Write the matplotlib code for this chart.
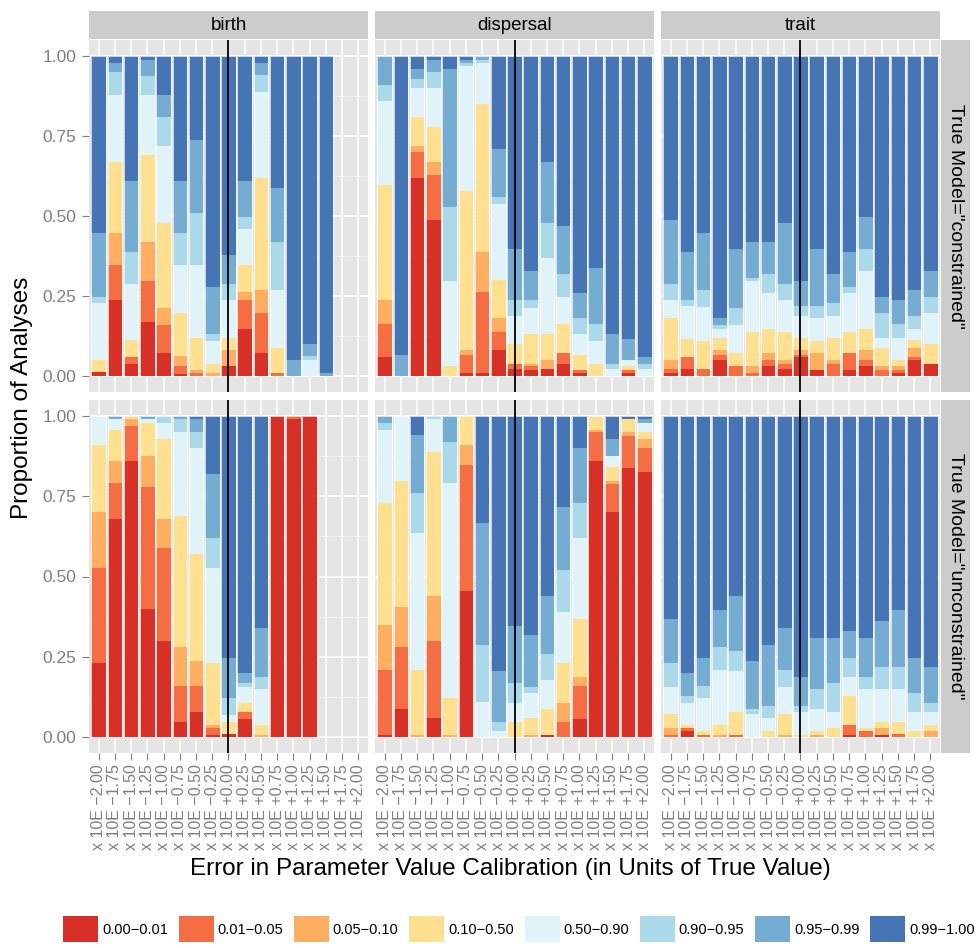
import numpy as np
import matplotlib
matplotlib.use("Agg")
import matplotlib.pyplot as plt
from matplotlib.patches import Patch

plt.rcParams['font.family'] = ['Liberation Sans', 'DejaVu Sans']

# calibration offsets on the x axis
offsets = ["\u22122.00", "\u22121.75", "\u22121.50", "\u22121.25", "\u22121.00",
           "\u22120.75", "\u22120.50", "\u22120.25", "+0.00", "+0.25", "+0.50",
           "+0.75", "+1.00", "+1.25", "+1.50", "+1.75", "+2.00"]
tick_labels = ["x 10E " + o for o in offsets]

# p-value bins and their colours
bins = ["0.00\u22120.01", "0.01\u22120.05", "0.05\u22120.10", "0.10\u22120.50",
        "0.50\u22120.90", "0.90\u22120.95", "0.95\u22120.99", "0.99\u22121.00"]
colors = ["#D73027", "#F46D43", "#FDAE61", "#FEE090",
          "#E0F3F8", "#ABD9E9", "#74ADD1", "#4575B4"]

params = ["birth", "dispersal", "trait"]
models = ["constrained", "unconstrained"]

# cumulative proportion at the top of each bin, one row per offset (None = no runs)
birth_constrained = [
    [0.012, 0.012, 0.012, 0.049, 0.228, 0.248, 0.448, 1.0],
    [0.239, 0.348, 0.448, 0.669, 0.877, 0.949, 0.977, 1.0],
    [0.039, 0.058, 0.058, 0.111, 0.289, 0.388, 0.610, 1.0],
    [0.170, 0.298, 0.420, 0.691, 0.877, 0.937, 0.986, 1.0],
    [0.071, 0.158, 0.211, 0.479, 0.719, 0.809, 0.877, 1.0],
    [0.007, 0.030, 0.061, 0.198, 0.348, 0.448, 0.610, 1.0],
    [0.000, 0.008, 0.018, 0.120, 0.348, 0.510, 0.737, 1.0],
    [0.000, 0.000, 0.008, 0.039, 0.108, 0.130, 0.279, 1.0],
    [0.030, 0.030, 0.080, 0.120, 0.239, 0.289, 0.379, 1.0],
    [0.148, 0.239, 0.261, 0.348, 0.460, 0.497, 0.610, 1.0],
    [0.071, 0.198, 0.270, 0.619, 0.887, 0.940, 0.977, 1.0],
    [0.000, 0.008, 0.008, 0.089, 0.270, 0.420, 0.588, 1.0],
    [0.000, 0.000, 0.000, 0.000, 0.000, 0.000, 0.049, 1.0],
    [0.000, 0.000, 0.000, 0.000, 0.049, 0.061, 0.099, 1.0],
    [0.000, 0.000, 0.000, 0.000, 0.000, 0.000, 0.008, 1.0],
    None,
    None,
]

dispersal_constrained = [
    [0.058, 0.161, 0.239, 0.597, 0.859, 0.909, 1.000, 1.0],
    [0.000, 0.000, 0.000, 0.000, 0.000, 0.000, 0.067, 1.0],
    [0.619, 0.700, 0.719, 0.809, 0.899, 0.927, 0.958, 1.0],
    [0.488, 0.628, 0.669, 0.778, 0.899, 0.949, 0.986, 1.0],
    [0.000, 0.000, 0.000, 0.030, 0.298, 0.529, 0.958, 1.0],
    [0.008, 0.067, 0.080, 0.578, 0.968, 0.977, 0.986, 1.0],
    [0.008, 0.261, 0.388, 0.849, 0.977, 0.986, 1.000, 1.0],
    [0.080, 0.139, 0.180, 0.301, 0.538, 0.560, 0.709, 1.0],
    [0.021, 0.039, 0.039, 0.099, 0.189, 0.239, 0.398, 1.0],
    [0.018, 0.030, 0.039, 0.130, 0.211, 0.239, 0.329, 1.0],
    [0.021, 0.021, 0.049, 0.130, 0.370, 0.479, 0.669, 1.0],
    [0.039, 0.071, 0.071, 0.161, 0.248, 0.320, 0.469, 1.0],
    [0.008, 0.018, 0.018, 0.067, 0.130, 0.180, 0.258, 1.0],
    [0.000, 0.000, 0.000, 0.039, 0.108, 0.161, 0.339, 1.0],
    [0.000, 0.000, 0.000, 0.000, 0.021, 0.039, 0.130, 1.0],
    [0.008, 0.018, 0.018, 0.030, 0.049, 0.049, 0.117, 1.0],
    [0.000, 0.000, 0.000, 0.000, 0.021, 0.039, 0.058, 1.0],
]

trait_constrained = [
    [0.008, 0.021, 0.049, 0.180, 0.239, 0.289, 0.488, 1.0],
    [0.021, 0.058, 0.058, 0.117, 0.220, 0.239, 0.388, 1.0],
    [0.000, 0.021, 0.021, 0.108, 0.217, 0.270, 0.448, 1.0],
    [0.049, 0.067, 0.080, 0.120, 0.148, 0.158, 0.180, 1.0],
    [0.000, 0.030, 0.030, 0.071, 0.158, 0.211, 0.398, 1.0],
    [0.000, 0.008, 0.030, 0.139, 0.298, 0.307, 0.420, 1.0],
    [0.030, 0.049, 0.071, 0.148, 0.258, 0.320, 0.420, 1.0],
    [0.021, 0.039, 0.049, 0.139, 0.239, 0.289, 0.479, 1.0],
    [0.058, 0.067, 0.080, 0.120, 0.189, 0.220, 0.298, 1.0],
    [0.018, 0.018, 0.071, 0.108, 0.180, 0.220, 0.398, 1.0],
    [0.000, 0.039, 0.049, 0.120, 0.189, 0.229, 0.320, 1.0],
    [0.018, 0.071, 0.071, 0.139, 0.258, 0.279, 0.388, 1.0],
    [0.030, 0.049, 0.080, 0.148, 0.329, 0.398, 0.497, 1.0],
    [0.000, 0.018, 0.030, 0.089, 0.120, 0.198, 0.248, 1.0],
    [0.008, 0.018, 0.030, 0.049, 0.120, 0.161, 0.239, 1.0],
    [0.049, 0.058, 0.089, 0.111, 0.148, 0.189, 0.270, 1.0],
    [0.039, 0.039, 0.039, 0.099, 0.198, 0.248, 0.329, 1.0],
]

birth_unconstrained = [
    [0.229, 0.528, 0.700, 0.909, 1.000, 1.000, 1.000, 1.0],
    [0.678, 0.790, 0.859, 0.958, 0.990, 0.990, 1.000, 1.0],
    [0.859, 0.968, 0.990, 1.000, 1.000, 1.000, 1.000, 1.0],
    [0.400, 0.778, 0.877, 0.977, 0.990, 0.990, 1.000, 1.0],
    [0.300, 0.590, 0.678, 0.927, 0.977, 1.000, 1.000, 1.0],
    [0.048, 0.160, 0.279, 0.687, 0.949, 0.990, 1.000, 1.0],
    [0.079, 0.160, 0.238, 0.569, 0.899, 0.949, 0.990, 1.0],
    [0.007, 0.029, 0.038, 0.229, 0.528, 0.619, 0.818, 1.0],
    [0.010, 0.010, 0.010, 0.048, 0.067, 0.120, 0.247, 1.0],
    [0.057, 0.079, 0.079, 0.107, 0.157, 0.169, 0.198, 1.0],
    [0.000, 0.000, 0.007, 0.038, 0.148, 0.188, 0.338, 1.0],
    [1.000, 1.000, 1.000, 1.000, 1.000, 1.000, 1.000, 1.0],
    [0.990, 1.000, 1.000, 1.000, 1.000, 1.000, 1.000, 1.0],
    [1.000, 1.000, 1.000, 1.000, 1.000, 1.000, 1.000, 1.0],
    None,
    None,
    None,
]

dispersal_unconstrained = [
    [0.007, 0.210, 0.350, 0.728, 0.958, 0.977, 1.000, 1.0],
    [0.088, 0.279, 0.406, 0.799, 1.000, 1.000, 1.000, 1.0],
    [0.000, 0.000, 0.007, 0.210, 0.637, 0.759, 0.940, 1.0],
    [0.060, 0.300, 0.438, 0.887, 0.990, 1.000, 1.000, 1.0],
    [0.000, 0.000, 0.007, 0.120, 0.790, 0.918, 1.000, 1.0],
    [0.456, 0.849, 0.909, 1.000, 1.000, 1.000, 1.000, 1.0],
    [0.000, 0.000, 0.000, 0.000, 0.110, 0.288, 0.668, 1.0],
    [0.000, 0.000, 0.000, 0.000, 0.020, 0.048, 0.207, 1.0],
    [0.000, 0.000, 0.000, 0.048, 0.107, 0.169, 0.347, 1.0],
    [0.000, 0.000, 0.007, 0.060, 0.138, 0.157, 0.319, 1.0],
    [0.007, 0.007, 0.007, 0.088, 0.179, 0.260, 0.438, 1.0],
    [0.000, 0.048, 0.107, 0.229, 0.388, 0.519, 0.718, 1.0],
    [0.057, 0.160, 0.188, 0.369, 0.619, 0.728, 0.899, 1.0],
    [0.859, 0.949, 0.958, 1.000, 1.000, 1.000, 1.000, 1.0],
    [0.700, 0.787, 0.799, 0.840, 0.877, 0.877, 0.927, 1.0],
    [0.837, 0.937, 0.949, 0.990, 0.990, 0.990, 0.990, 1.0],
    [0.827, 0.899, 0.927, 0.949, 0.977, 0.977, 0.990, 1.0],
]

trait_unconstrained = [
    [0.000, 0.007, 0.029, 0.070, 0.157, 0.229, 0.369, 1.0],
    [0.017, 0.029, 0.029, 0.038, 0.107, 0.129, 0.198, 1.0],
    [0.000, 0.007, 0.007, 0.017, 0.120, 0.160, 0.247, 1.0],
    [0.000, 0.000, 0.007, 0.038, 0.210, 0.279, 0.397, 1.0],
    [0.000, 0.007, 0.007, 0.079, 0.207, 0.269, 0.438, 1.0],
    [0.000, 0.000, 0.000, 0.000, 0.070, 0.088, 0.238, 1.0],
    [0.000, 0.000, 0.000, 0.020, 0.060, 0.098, 0.288, 1.0],
    [0.000, 0.000, 0.007, 0.070, 0.157, 0.210, 0.338, 1.0],
    [0.000, 0.000, 0.000, 0.007, 0.079, 0.098, 0.188, 1.0],
    [0.000, 0.000, 0.007, 0.020, 0.088, 0.148, 0.307, 1.0],
    [0.000, 0.000, 0.000, 0.029, 0.079, 0.169, 0.307, 1.0],
    [0.007, 0.038, 0.038, 0.129, 0.188, 0.247, 0.329, 1.0],
    [0.000, 0.017, 0.017, 0.029, 0.148, 0.188, 0.307, 1.0],
    [0.007, 0.007, 0.029, 0.048, 0.148, 0.219, 0.360, 1.0],
    [0.000, 0.010, 0.010, 0.048, 0.148, 0.219, 0.397, 1.0],
    [0.000, 0.000, 0.000, 0.017, 0.079, 0.138, 0.247, 1.0],
    [0.000, 0.000, 0.020, 0.038, 0.079, 0.107, 0.219, 1.0],
]

panels = {
    ("constrained", "birth"): birth_constrained,
    ("constrained", "dispersal"): dispersal_constrained,
    ("constrained", "trait"): trait_constrained,
    ("unconstrained", "birth"): birth_unconstrained,
    ("unconstrained", "dispersal"): dispersal_unconstrained,
    ("unconstrained", "trait"): trait_unconstrained,
}

W, H = 979, 948
fig = plt.figure(figsize=(W / 100, H / 100), dpi=100)


def px_axes(left, top, width, height):
    return fig.add_axes([left / W, 1 - (top + height) / H, width / W, height / H])


def strip(left, top, width, height):
    sax = px_axes(left, top, width, height)
    sax.set_facecolor("#CCCCCC")
    sax.set_xticks([])
    sax.set_yticks([])
    for s in sax.spines.values():
        s.set_visible(False)
    return sax


col_left = [89, 375, 661]
col_w = 279
row_top = [40, 400]
row_h = [352, 353]
grey_txt = "#7F7F7F"
x = np.arange(len(offsets))

for r, model in enumerate(models):
    for c, param in enumerate(params):
        ax = px_axes(col_left[c], row_top[r], col_w, row_h[r])
        ax.set_facecolor("#E5E5E5")
        for s in ax.spines.values():
            s.set_visible(False)
        ax.set_xlim(-0.6, len(offsets) - 0.4)
        ax.set_ylim(-0.05, 1.05)
        ax.set_yticks([0, 0.25, 0.5, 0.75, 1.0])
        ax.set_yticks([0.125, 0.375, 0.625, 0.875], minor=True)
        ax.set_xticks(x)
        ax.grid(which="major", color="white", lw=1.1)
        ax.grid(which="minor", axis="y", color="#F2F2F2", lw=0.6)
        ax.set_axisbelow(True)

        rows = panels[(model, param)]
        cum = np.array([row if row is not None else [0.0] * 8 for row in rows])
        prev = np.zeros(len(offsets))
        for k in range(8):
            h = cum[:, k] - prev
            ax.bar(x, h, bottom=prev, width=0.9, color=colors[k], lw=0)
            prev = cum[:, k]
        # white outline around each full bar
        has = np.array([row is not None for row in rows])
        ax.bar(x[has], cum[has, 7], width=0.9, facecolor="none",
               edgecolor="white", lw=0.5)

        ax.axvline(8, color="black", lw=1.3)

        ax.tick_params(which="both", length=0)
        ax.tick_params(which="major", colors=grey_txt, length=5, width=0.8,
                       pad=4, labelsize=12.5)
        if c == 0:
            ax.set_yticklabels(["0.00", "0.25", "0.50", "0.75", "1.00"])
        else:
            ax.tick_params(axis="y", which="major", length=0, labelleft=False)
        if r == 1:
            ax.set_xticklabels(tick_labels, rotation=90, fontsize=11.5)
            ax.tick_params(axis="x", which="major", pad=3)
        else:
            ax.tick_params(axis="x", which="major", length=0, labelbottom=False)

        # facet strips
        if r == 0:
            sax = strip(col_left[c], 11, col_w, 28)
            sax.text(0.5, 0.5, param, ha="center", va="center", fontsize=13.5,
                     transform=sax.transAxes)
        if c == 2:
            sax = strip(941, row_top[r], 29, row_h[r])
            sax.text(0.5, 0.5, 'True Model="%s"' % model, ha="center", va="center",
                     rotation=-90, fontsize=14, transform=sax.transAxes)

fig.text(22 / W, 1 - 398 / H, "Proportion of Analyses", rotation=90,
         ha="center", va="center", fontsize=17.5)
fig.text(510 / W, 1 - 869 / H,
         "Error in Parameter Value Calibration (in Units of True Value)",
         ha="center", va="center", fontsize=17.5)

handles = [Patch(facecolor=col, edgecolor="none") for col in colors]
fig.legend(handles, bins, ncol=8, loc="center", bbox_to_anchor=(519 / W, 1 - 929 / H),
           frameon=False, fontsize=10.5, handlelength=2.4, handleheight=2.3,
           handletextpad=0.25, columnspacing=0.75, borderpad=0)

fig.savefig("out.png", dpi=100)
